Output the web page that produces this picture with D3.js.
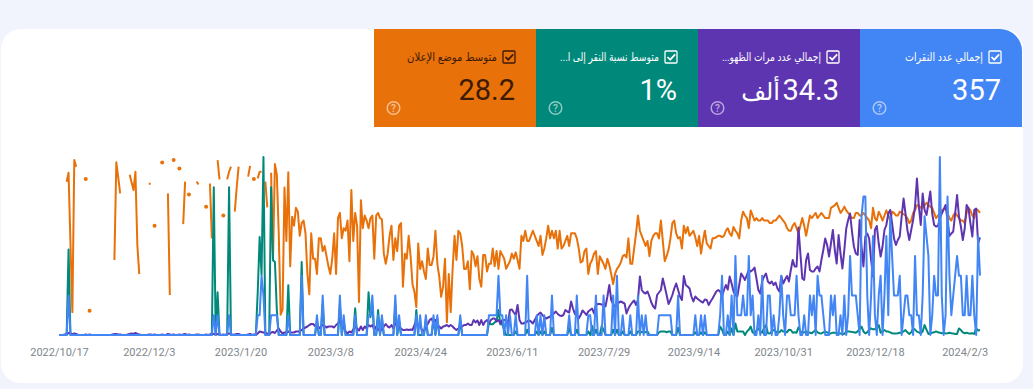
<!DOCTYPE html>
<html lang="ar"><head><meta charset="utf-8">
<script src="https://cdnjs.cloudflare.com/ajax/libs/d3/7.8.5/d3.min.js"></script>
<style>html,body{margin:0;padding:0;background:#f1f4fd}svg{display:block}</style>
</head><body><svg id="c" width="1033" height="389"></svg>
<script>
const _ = null;
const startDate = "2022-10-17";
const endDate = "2024-02-11";
const tickDates = ["2022-10-17","2022-12-03","2023-01-20","2023-03-08","2023-04-24","2023-06-11","2023-07-29","2023-09-14","2023-10-31","2023-12-18","2024-02-03"];
const tickLabels = ["2022/10/17","2022/12/3","2023/1/20","2023/3/8","2023/4/24","2023/6/11","2023/7/29","2023/9/14","2023/10/31","2023/12/18","2024/2/3"];
const cardLabels = ["متوسط موضع الإعلان","متوسط نسبة النقر إلى ا...","إجمالي عدد مرات الظهو...","إجمالي عدد النقرات"];
const cardNumbers = ["28.2","1%","34.3","357"];
const cardUnits = ["","","ألف",""];

// Average position, one value per day from startDate
const positionValues = [
_,_,_,_,9.7,6.2,34,61,1.2,3.8,
_,_,_,_,8.7,_,60.5,_,_,_,
_,_,_,_,_,_,_,_,_,40.5,
2.1,8,14.3,_,_,_,_,7,10,13,
5.8,34.6,46,_,_,_,_,10.5,10.5,_,
27,_,_,_,2.2,_,_,14.3,54.3,_,
1.2,_,_,4.5,_,26.4,9.7,_,14.7,_,
_,_,9.7,10.8,_,_,_,19.6,_,10.4,
32,_,_,1.2,8.8,_,23,_,8.8,5.8,
3.8,_,21.5,12,3.8,_,_,_,_,7.7,
3.5,_,8.7,_,8.4,5.8,5.8,_,9.7,19.8,
_,6.2,40,2.8,7,30,
62,60,12,33,6,43,23.5,27,20,21.5,31,26,25,30,46,54,30,40,40,46,32,32,37,35,
39,43,46,40,30,46,24,22,32,28,29,25,41,13,33,22,27,57,17,28,23,25,28,24,23,40,
23,22,24,24.5,38,42,38,31,27,40.5,32,37,27,26,51,38,40,31,39,50,53,59,34,44,
41,45,48,36,42.5,42.5,39,29,42,47,55,51,40,65,46,61,44,31,40.5,29,30,35,44,44,
41,52,37,38.5,43,39,48,51,38.5,38.5,45,42,42,36,43,37,44,37,38.5,40,44,42.5,
41,38,40,37.5,40.5,44,31,33,29,33,33,31,29,31,33,35,31,38.5,36,32,27,32,29,32,
29,36,29,36,35,33,31,35,30,30,30,32,36,41.5,41,37,36,46,42,40.5,38,37,46,39,
40.5,42,44,40,42.5,46,50,46,44,43,41.5,39,38.5,39.5,32,42,42,36,30,23,29,31,
33,35,33,39,33,31,30,30,32,25,33,41,39,36.5,32,26,25,30,32,31.5,36,27,30,27.5,
31,30,29,31.5,35,31,38,33,29,34,35,36,32,32,31.5,31,31,31.5,31,29,28,30,31,
27.5,29,30,32,25,21.5,23,
24,28,21,23,25,24,25,25,24,25,25,25,26,26,25,25,24,23,24,25,26,28,29,29,27,26,
28,30,27,24,27,31,27,23,24,23,22,24,23,22,23,24,24,24,20,19.5,19,18,20,22,21,
19.5,21,22,23,24,24,22,22,23,23,22,23,24,25,28,20,24,25,21.5,23,25,23,21,23,
25,21.5,22,23,23,21.5,22,22.5,23,24,26,25,22,21,19,19,20,20,19,18,19,19.5,20,
22,24,23,22,21,20.5,20,22,24,25,23,22,23,24,25,25,26,22,20,21,23,24,20.5,21,22
];

// Total impressions per day
const impressionValues = [
0,0,0,1,2,4,3,1,3,2,
0,0,0,0,1,0,1,0,0,0,
0,0,0,0,0,0,0,0,1,2,
2,1,1,0,0,0,1,2,3,2,
4,2,1,0,0,0,0,1,1,0,
1,0,0,0,1,0,0,2,1,0,
1,0,0,1,0,1,2,0,1,0,
0,0,1,1,0,0,0,1,0,1,
3,2,1,2,1,0,1,0,2,3,
2,0,1,2,2,0,0,0,0,1,
2,0,1,0,3,7,6,5,4,3,
0,5,6,4,9,13,
7,3,5,5,7,5,5,5,7,7,7,10,13,15,17,20,22,22,18,17,13,17,20,18,15,17,17,17,15,20,
23,29,23,20,7,3,7,5,11,17,13,9,17,10,17,13,20,17,20,10,17,10,13,10,17,22,17,15,
20,13,23,20,17,13,10,10,11,10,11,10,20,27,20,17,10,7,17,22,30,33,23,30,20,17,
13,17,18,20,17,20,17,13,10,13,17,17,20,20,23,20,20,30,25,29,20,30,20,27,30,23,
30,33,33,27,30,23,30,30,30,23,50,51,
45,40,60,30,23,23,25,27,29,27,23,30,37,42,45,40,35,33,35,37,40,43,47,42,39,38,40,
50,47,45,67,53,42,39,33,40,49,45,40,47,50,53,43,60,62,62,61,60,57,77,100,70,62,
57,60,65,67,65,63,43,53,60,65,69,60,70,117,90,85,83,87,77,65,57,53,80,85,90,113,
97,80,62,70,80,93,103,90,77,70,118,100,97,93,77,67,77,73,70,67,65,71,70,60,67,73,
80,87,90,87,77,90,100,91,117,103,87,80,77,100,123,117,110,
120,130,127,130,135,113,90,83,107,117,123,107,103,107,100,105,93,87,118,103,111,
118,107,130,150,137,137,215,163,113,110,150,163,130,127,127,133,137,127,150,170,
193,180,157,183,210,170,143,200,163,133,170,213,230,243,207,177,163,160,230,177,
137,197,203,193,150,117,210,218,183,157,177,210,220,243,250,223,193,180,190,197,
237,273,243,210,190,210,230,257,313,257,220,283,250,240,263,287,243,220,217,218,
233,243,251,260,230,198,203,207,243,280,237,217,190,213,260,253,223,197,250,253,183,195
];

// Average click-through rate in %, [day, value]; days not listed are 0
const ctrEarly = [[5,48],[81,83],[83,24],[89,83],[104,24],[105,55],[106,34],[107,100],[111,83],[112,42],[113,41],[114,14],[120,28],[127,41],[135,8],[138,17],[147,17],[149,8],[155,15],[162,24],[163,10],[164,17],[167,14],[169,9],[176,17],[178,7],[187,14],[192,9],[196,9],[198,9],[210,8],[225,7],[226,6],[227,6],[228,7],[229,8],[230,14],[231,6],[232,6],[233,3],[239,2],[245,3],[250,2],[252,2],[254,2],[258,4],[267,4],[271,3],[277,2],[279,5],[281,3],[284,5],[285,3],[290,3],[292,3],[295,2],[299,2],[303,2],[304,2],[305,1.5],[306,2],[307,1.5],[308,2],[314,1.5],[315,2],[316,2],[317,2],[318,1.5],[319,2],[320,2],[324,4],[333,1.5],[336,1.5],[338,1.5],[346,4.7],[347,3],[350,2],[352,3.7],[354,6.5],[355,2],[356,1.9],[357,1.9],[358,2]];
const ctrLate = [1.9,3,4.7,1.5,.9,2.5,3.7,2,1.3,4,5.6,1,.9,2,2.8,2,1.3,1.5,2.8,2,1.9,1.5,3,2.8,1.3,1.5,1.3,4.3,2,1.3,1.5,1.9,1.5,1.3,1,2,2.8,1.5,1,.9,1.5,1.9,1.5,1,.9,1.3,1.3,1.1,1,.8,.6,.6,1.9,1.9,1.9,1.7,1.5,1.3,2,3.5,4.7,2,.9,1.5,3,3.7,3.2,3.2,4,5.6,1.3,2,2.8,2,1.9,1.5,1,.9,.9,1,1.3,1.3,2,2.8,1.5,.6,1.5,3.7,3,1.9,1.5,.9,2,5.6,3,.6,.8,1.3,1.5,2,1.5,1.3,1,1.3,.9,1,1.3,1,.9,.6,.6,3.7,2.8,1.5,1,1.3,.9,.8,1,.6,3.7,2.5,2.8];

// Total clicks, [day, value]; days not listed are 0
const clicksEarly = [[5,2],[81,1],[83,1],[89,1],[104,1],[105,1],[106,3],[107,2],[111,1],[112,1],[113,1],[114,1],[120,1],[127,3],[135,1],[138,2],[147,2],[149,1],[155,1],[162,1],[163,1],[164,2],[167,1],[169,1],[176,2],[178,1],[187,1],[189,1],[192,1],[196,1],[198,1],[210,1],[225,1],[226,1],[227,1],[228,1],[229,1],[230,3],[231,1],[232,1],[234,1],[236,1],[239,1],[245,3],[250,1],[252,1],[254,1],[258,2],[267,1],[271,2],[277,1],[278,1],[281,2],[285,2],[290,2],[292,3],[295,1],[299,1],[303,2],[305,1],[307,1],[314,1],[315,1],[316,1],[317,1],[318,1],[319,1],[320,1],[324,2],[333,1],[336,1],[338,1],[346,1],[347,3],[350,1],[352,2],[354,4],[355,1],[356,1],[357,1],[358,2],[359,1]];
const clicksLate = [1,4,1,2,0,0,1,0,3,0,0,2,2,0,1,0,0,1,3,1,0,2,2,1,1,1,3,1,0,0,1,0,0,2,1,2,0,3,2,2,1,0,0,0,2,1,2,0,0,1,0,2,0,1,4,2,2,2,1,0,6,7,7,2,0,2,5,1,0,2,3,0,2,5,1,6,4,2,2,2,3,0,1,2,2,1,1,0,4,1,1,0,2,6,5,4,0,1,3,2,2,9,2,0,1,7,3,1,2,3,4,3,3,1,1,3,1,1,3,1,0,5,3];

const dayCount = 483;
function expand(pairs, late){
  const m = new Map(pairs), out = [];
  for(let i=0;i<360;i++) out.push(m.get(i)||0);
  return out.concat(late).slice(0,dayCount);
}
const ctrValues = expand(ctrEarly, ctrLate);
const clickValues = expand(clicksEarly, clicksLate);

const parse = d3.utcParse("%Y-%m-%d");
const t0 = parse(startDate);
const dayDate = i => d3.utcDay.offset(t0, i);

const colors = {pos:"#e8710a", ctr:"#00897b", imp:"#5e35b1", clk:"#4285f4"};
const cardColors = [colors.pos, colors.ctr, colors.imp, colors.clk];
const labelWidths = [90, 99, 99, 78];
const plotTop = 157, plotBottom = 335;
const x = d3.scaleUtc().domain([t0, parse(endDate)]).range([59, 980]);
const yPos = d3.scaleLinear().domain([70,0]).range([plotBottom, plotTop]);
const yCtr = d3.scaleLinear().domain([0,100]).range([plotBottom, plotTop]);
const yImp = d3.scaleLinear().domain([0,356]).range([plotBottom, plotTop]);
const yClk = d3.scaleLinear().domain([0,9]).range([plotBottom, plotTop]);

const svg = d3.select("#c");
svg.append("rect").attr("width",1033).attr("height",389).attr("fill","#f1f4fd");
svg.append("rect").attr("x",1).attr("y",29).attr("width",1022).attr("height",354).attr("rx",20).attr("fill","#fff");

// Scorecards
const cardX = d3.scaleBand().domain(d3.range(4)).range([374,1022]);
const cw = cardX.bandwidth();
const cards = svg.selectAll("g.card").data(cardLabels).join("g").attr("class","card")
  .attr("transform",(d,i)=>`translate(${cardX(i)},29)`);
cards.append("path").attr("fill",(d,i)=>cardColors[i]).attr("d",(d,i)=> i===3
  ? `M0,0H${cw-22}A22,22 0 0 1 ${cw},22V98H0Z` : `M0,0H${cw}V98H0Z`);
const ink = i => i===0 ? "#3d1a02" : "#fff";
cards.append("rect").attr("x",cw-33).attr("y",22).attr("width",12).attr("height",12).attr("rx",1)
  .attr("fill","none").attr("stroke",(d,i)=>ink(i)).attr("stroke-width",1.3);
cards.append("path").attr("d",`M${cw-30.5},28l2.7,2.7l5,-5.4`).attr("fill","none")
  .attr("stroke",(d,i)=>ink(i)).attr("stroke-width",1.7);
cards.append("text").text(d=>d).attr("x",cw-39).attr("y",32)
  .attr("direction","rtl").attr("text-anchor","start")
  .attr("textLength",(d,i)=>labelWidths[i]).attr("lengthAdjust","spacingAndGlyphs")
  .attr("font-family","'Liberation Sans','DejaVu Sans',sans-serif").attr("font-size",11.5)
  .attr("fill",(d,i)=>ink(i));
cards.append("text").text((d,i)=>cardNumbers[i]).attr("x",cw-21).attr("y",71)
  .attr("text-anchor","end")
  .attr("font-family","Roboto,sans-serif").attr("font-size",29)
  .attr("fill",(d,i)=>ink(i));
cards.append("text").text((d,i)=>cardUnits[i]).attr("x",cw-80).attr("y",71)
  .attr("direction","rtl").attr("text-anchor","start")
  .attr("font-family","'Liberation Sans','DejaVu Sans',sans-serif").attr("font-size",24)
  .attr("fill",(d,i)=>ink(i));
cards.append("circle").attr("cx",19.5).attr("cy",79).attr("r",6.3).attr("fill","none")
  .attr("stroke","#fff").attr("stroke-opacity",.55).attr("stroke-width",1.5);
cards.append("text").text("?").attr("x",19.5).attr("y",82.6).attr("text-anchor","middle")
  .attr("font-family","Roboto,sans-serif").attr("font-weight",500).attr("font-size",10).attr("fill","#fff").attr("fill-opacity",.6);

// Axis
const axis = d3.axisBottom(x).tickValues(tickDates.map(parse)).tickSize(0).tickPadding(0)
  .tickFormat((d,i)=>tickLabels[i]);
const ax = svg.append("g").attr("transform","translate(0,348)").call(axis);
ax.select(".domain").remove();
ax.selectAll("text").attr("font-family","Roboto,sans-serif").attr("font-size",11).attr("fill","#80868b");

// Lines
function drawSeries(vals, y, color, w){
  const line = d3.line().defined(d=>d!==null).x((d,i)=>x(dayDate(i))).y(d=>y(d)).curve(d3.curveLinear);
  svg.append("path").attr("d",line(vals)).attr("fill","none").attr("stroke",color)
    .attr("stroke-width",w).attr("stroke-linejoin","round");
  const lone = vals.map((v,i)=>({v,i})).filter(o=>o.v!==null && vals[o.i-1]==null && vals[o.i+1]==null);
  svg.append("g").selectAll("circle").data(lone).join("circle")
    .attr("cx",o=>x(dayDate(o.i))).attr("cy",o=>y(o.v)).attr("r",2).attr("fill",color);
}
drawSeries(positionValues, yPos, colors.pos, 2);
drawSeries(ctrValues, yCtr, colors.ctr, 2);
drawSeries(impressionValues, yImp, colors.imp, 2);
drawSeries(clickValues, yClk, colors.clk, 2);
</script></body></html>
